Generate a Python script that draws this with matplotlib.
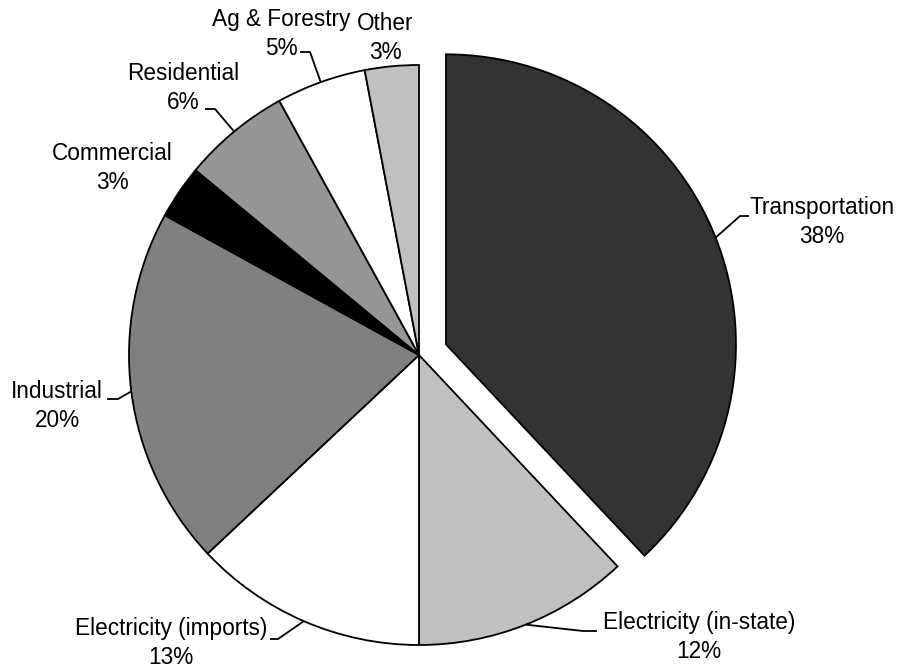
import numpy as np
import matplotlib.pyplot as plt
from matplotlib import rcParams

rcParams['font.family'] = ['Liberation Sans', 'DejaVu Sans']

# --- data ---
categories = ['Transportation', 'Electricity (in-state)', 'Electricity (imports)',
              'Industrial', 'Commercial', 'Residential', 'Ag & Forestry', 'Other']
shares = [38, 12, 13, 20, 3, 6, 5, 3]
colors = ['#333333', '#c0c0c0', '#ffffff', '#808080',
          '#000000', '#969696', '#ffffff', '#c0c0c0']
explode = [0.1, 0, 0, 0, 0, 0, 0, 0]

# --- layout (pixel positions in the 902x670 canvas) ---
W, H = 902, 670
CX, CY, R = 419, 355, 290   # pie centre and radius in pixels

# label centre, leader start (at text), leader elbow; None = no leader
label_layout = [
    ((822, 222), (749, 216), (740, 216)),
    ((699, 637), (597, 631), (583, 631)),
    ((171, 643), (270, 639), (278, 639)),
    ((57, 406), (107, 399), (118, 399)),
    ((112, 168), None, None),
    ((183, 88), (205, 109), (215, 109)),
    ((281, 34), (300, 52), (310, 52)),
    ((385, 38), None, None),
]


def px(x, y):
    # pixel -> data coords (pie radius = 1)
    return (x - CX) / R, (CY - y) / R


fig = plt.figure(figsize=(W / 100, H / 100), dpi=100)
ax = fig.add_axes([0, 0, 1, 1])

wedges, _ = ax.pie(shares, colors=colors, explode=explode, startangle=90,
                   counterclock=False,
                   wedgeprops=dict(edgecolor='black', linewidth=1.3))

ax.set_xlim(-CX / R, (W - CX) / R)
ax.set_ylim(-(H - CY) / R, CY / R)
ax.set_aspect('equal')
ax.axis('off')

for w, name, pct, (txt, start, elbow) in zip(wedges, categories, shares, label_layout):
    tx, ty = px(*txt)
    ax.text(tx, ty, f'{name}\n{pct}%', ha='center', va='center',
            fontsize=16.3, linespacing=1.35, color='black')
    if start is None:
        continue
    # leader goes to the middle of the wedge's outer edge
    mid = np.deg2rad((w.theta1 + w.theta2) / 2)
    ax_, ay_ = w.center[0] + w.r * np.cos(mid), w.center[1] + w.r * np.sin(mid)
    sx, sy = px(*start)
    ex, ey = px(*elbow)
    ax.plot([sx, ex, ax_], [sy, ey, ay_], color='black', lw=1.3,
            solid_capstyle='butt')

plt.savefig('out.png', dpi=100)
